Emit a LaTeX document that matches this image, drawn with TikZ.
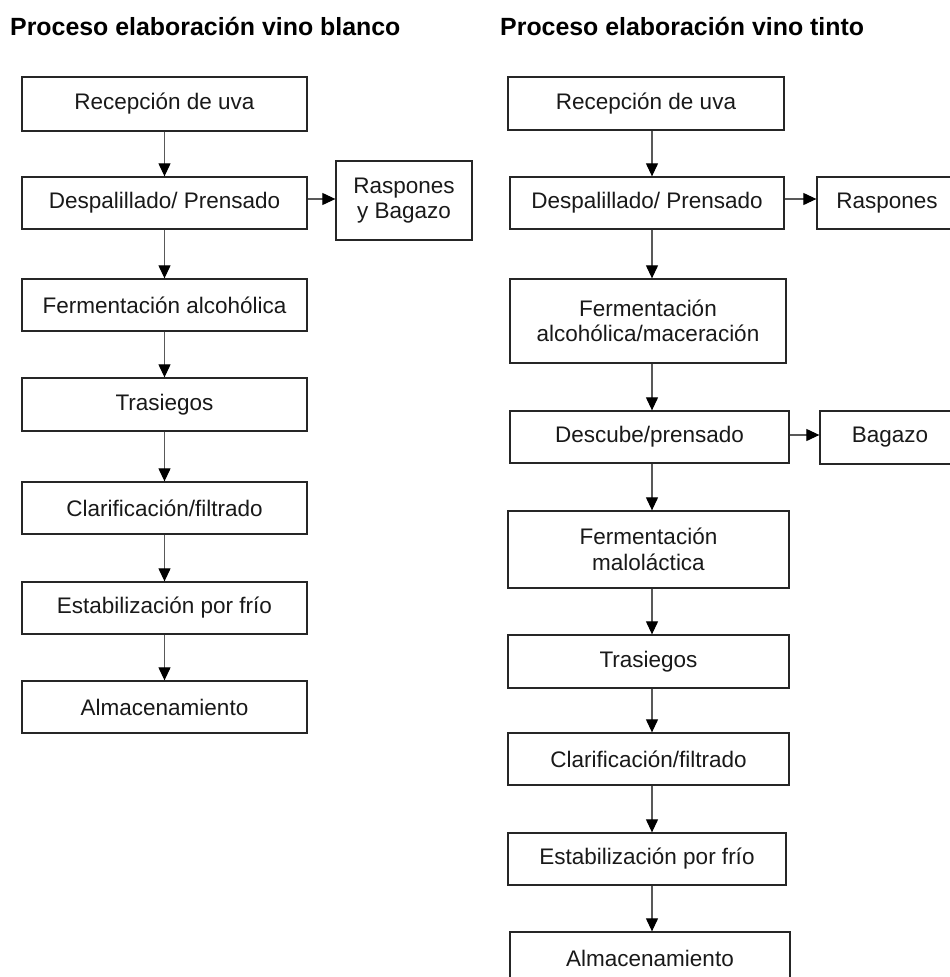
\documentclass[tikz,border=0pt]{standalone}
\usepackage{fontspec}
\setmainfont{Liberation Sans}
\usetikzlibrary{arrows.meta}
\tikzset{
  box/.style={draw=black!85, line width=1.3pt, rectangle, inner sep=0pt, align=center,
    font=\fontsize{22.5}{25.5}\selectfont, text=black!90},
  arr/.style={draw=black!65, line width=1.1pt, -{Triangle[length=13pt,width=12pt,color=black,fill=black]}},
  ttl/.style={anchor=base west, inner sep=0pt, font=\fontsize{24.9}{28}\selectfont\bfseries},
}
\newcommand{\bx}[7]{\node[box, minimum width=#3pt, minimum height=#4pt] (#1) at (#5,#6) {#7};}
\begin{document}
\begin{tikzpicture}[x=1pt,y=-1pt]
\useasboundingbox[fill=white] (0,0) rectangle (950,977);
% titles
\node[ttl] (t1) at (10,35) {Proceso elaboración vino blanco};
\node[ttl] (t2) at (500,35) {Proceso elaboración vino tinto};
% left column (x 22..307)
\bx{a1}{}{285}{54}{164.5}{104}{Recepción de uva}
\bx{a2}{}{285}{52}{164.5}{203}{Despalillado/ Prensado}
\bx{a3}{}{285}{52}{164.5}{305}{Fermentación alcohólica}
\bx{a4}{}{285}{53}{164.5}{404.5}{Trasiegos}
\bx{a5}{}{285}{52}{164.5}{508}{Clarificación/filtrado}
\bx{a6}{}{285}{52}{164.5}{608}{Estabilización por frío}
\bx{a7}{}{285}{52}{164.5}{707}{Almacenamiento}
\bx{ar}{}{136}{79}{404}{200.5}{Raspones\\y Bagazo}
% right column
\coordinate (rx) at (652,0);
\bx{b1}{}{276}{53}{646}{103.5}{Recepción de uva}
\bx{b2}{}{274}{52}{647}{203}{Despalillado/ Prensado}
\bx{b3}{}{276}{84}{648}{321}{Fermentación\\alcohólica/maceración}
\bx{b4}{}{279}{52}{649.5}{437}{Descube/prensado}
\bx{b5}{}{281}{77}{648.5}{549.5}{Fermentación\\maloláctica}
\bx{b6}{}{281}{53}{648.5}{661.5}{Trasiegos}
\bx{b7}{}{281}{52}{648.5}{759}{Clarificación/filtrado}
\bx{b8}{}{278}{52}{647}{859}{Estabilización por frío}
\bx{b9}{}{280}{52}{650}{958}{Almacenamiento}
\bx{br}{}{140}{52}{887}{203}{Raspones}
\bx{bb}{}{140}{53}{890}{437.5}{Bagazo}
% left arrows
\draw[arr] (a1.south) -- (a2.north);
\draw[arr] (a2.south) -- (a3.north);
\draw[arr] (a3.south) -- (a4.north);
\draw[arr] (a4.south) -- (a5.north);
\draw[arr] (a5.south) -- (a6.north);
\draw[arr] (a6.south) -- (a7.north);
\draw[arr] (a2.east |- 0,199) -- (ar.west |- 0,199);
% right arrows
\draw[arr] (b1.south -| rx) -- (b2.north -| rx);
\draw[arr] (b2.south -| rx) -- (b3.north -| rx);
\draw[arr] (b3.south -| rx) -- (b4.north -| rx);
\draw[arr] (b4.south -| rx) -- (b5.north -| rx);
\draw[arr] (b5.south -| rx) -- (b6.north -| rx);
\draw[arr] (b6.south -| rx) -- (b7.north -| rx);
\draw[arr] (b7.south -| rx) -- (b8.north -| rx);
\draw[arr] (b8.south -| rx) -- (b9.north -| rx);
\draw[arr] (b2.east |- 0,199) -- (br.west |- 0,199);
\draw[arr] (b4.east |- 0,435) -- (bb.west |- 0,435);
\end{tikzpicture}
\end{document}
